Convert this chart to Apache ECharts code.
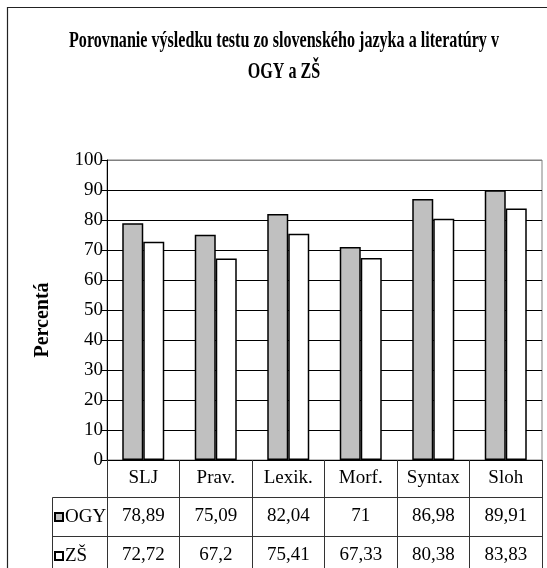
<!DOCTYPE html>
<html>
<head>
<meta charset="utf-8">
<script src="https://cdn.jsdelivr.net/npm/echarts@6/dist/echarts.min.js"></script>
<style>html,body{margin:0;padding:0;background:#fff;}#c{width:547px;height:568px;}</style>
</head>
<body>
<div id="c"></div>
<script>
var titleLine1 = 'Porovnanie výsledku testu zo slovenského jazyka a literatúry v';
var titleLine2 = 'OGY a ZŠ';
var yAxisName = 'Percentá';
var categories = ['SLJ', 'Prav.', 'Lexik.', 'Morf.', 'Syntax', 'Sloh'];
var seriesNames = ['OGY', 'ZŠ'];
var ogyValues = [78.89, 75.09, 82.04, 71, 86.98, 89.91];
var zsValues = [72.72, 67.2, 75.41, 67.33, 80.38, 83.83];
var yTicks = [0, 10, 20, 30, 40, 50, 60, 70, 80, 90, 100];

var FONT = '"Liberation Serif", "Times New Roman", serif';
function fmt(v) { return String(v).replace('.', ','); }

var chart = echarts.init(document.getElementById('c'), null, {renderer: 'canvas'});
var splitColors = yTicks.map(function (t, i) { return i === yTicks.length - 1 ? '#808080' : '#000'; });

function legendFor(name, top) {
  return {
    orient: 'horizontal', left: 54, top: top, padding: 0,
    itemWidth: 8, itemHeight: 8, icon: 'rect',
    data: [name],
    textStyle: {fontFamily: FONT, fontSize: 19, color: '#000', lineHeight: 20, padding: [0, 0, 0, -3]}
  };
}

var option = {
  backgroundColor: '#fff',
  animation: false,
  grid: {left: 107, right: 5, top: 160, bottom: 108, show: true, borderColor: '#808080', borderWidth: 1, backgroundColor: 'transparent'},
  legend: [legendFor(seriesNames[0], 507), legendFor(seriesNames[1], 546)],
  xAxis: [
    {
      type: 'category', data: categories, position: 'bottom',
      axisLine: {show: true, lineStyle: {color: '#000', width: 1}},
      axisTick: {show: true, length: 108, interval: 0, lineStyle: {color: '#333'}},
      axisLabel: {fontFamily: FONT, fontSize: 19, color: '#000', margin: 9, interval: 0}
    },
    {
      type: 'category', data: ogyValues.map(fmt), position: 'bottom', offset: 37,
      axisLine: {show: true, lineStyle: {color: '#333', width: 1}},
      axisTick: {show: false},
      axisLabel: {fontFamily: FONT, fontSize: 19, color: '#000', margin: 10, interval: 0}
    },
    {
      type: 'category', data: zsValues.map(fmt), position: 'bottom', offset: 76,
      axisLine: {show: true, lineStyle: {color: '#333', width: 1}},
      axisTick: {show: false},
      axisLabel: {fontFamily: FONT, fontSize: 19, color: '#000', margin: 10, interval: 0}
    }
  ],
  yAxis: {
    type: 'value', min: 0, max: 100, interval: 10,
    name: yAxisName, nameLocation: 'middle', nameGap: 54,
    nameTextStyle: {fontFamily: FONT, fontSize: 20, fontWeight: 'bold', color: '#000', padding: [0, 20, 0, 0]},
    axisLine: {show: true, lineStyle: {color: '#000', width: 1}},
    axisTick: {show: true, length: 5, lineStyle: {color: '#000'}},
    axisLabel: {fontFamily: FONT, fontSize: 19, color: '#000', margin: 4},
    splitLine: {show: true, lineStyle: {color: splitColors, width: 1}}
  },
  series: [
    {
      name: seriesNames[0], type: 'bar', data: ogyValues, xAxisIndex: 0,
      barWidth: 21, barGap: '0%',
      itemStyle: {color: '#C0C0C0', borderColor: '#000', borderWidth: 1.5}
    },
    {
      name: seriesNames[1], type: 'bar', data: zsValues, xAxisIndex: 0,
      barWidth: 21, barGap: '0%',
      itemStyle: {color: '#FFFFFF', borderColor: '#000', borderWidth: 1.5}
    }
  ],
  graphic: [
    {type: 'rect', silent: true, z: -10, shape: {x: 7.5, y: 7.5, width: 600, height: 700},
      style: {fill: 'transparent', stroke: '#222', lineWidth: 1.2}},
    {type: 'rect', silent: true, shape: {x: 52.5, y: 497.5, width: 55, height: 200},
      style: {fill: 'transparent', stroke: '#333', lineWidth: 1}},
    {type: 'line', silent: true, shape: {x1: 52.5, y1: 536.5, x2: 107.5, y2: 536.5},
      style: {stroke: '#333', lineWidth: 1}},
    {type: 'text', silent: true, x: 284, y: 41, scaleX: 0.70,
      style: {text: titleLine1, font: 'bold 23px ' + FONT, fill: '#000', align: 'center', verticalAlign: 'middle', textAlign: 'center', textVerticalAlign: 'middle'}},
    {type: 'text', silent: true, x: 284, y: 72, scaleX: 0.70,
      style: {text: titleLine2, font: 'bold 23px ' + FONT, fill: '#000', align: 'center', verticalAlign: 'middle', textAlign: 'center', textVerticalAlign: 'middle'}}
  ]
};
chart.setOption(option);
</script>
</body>
</html>
